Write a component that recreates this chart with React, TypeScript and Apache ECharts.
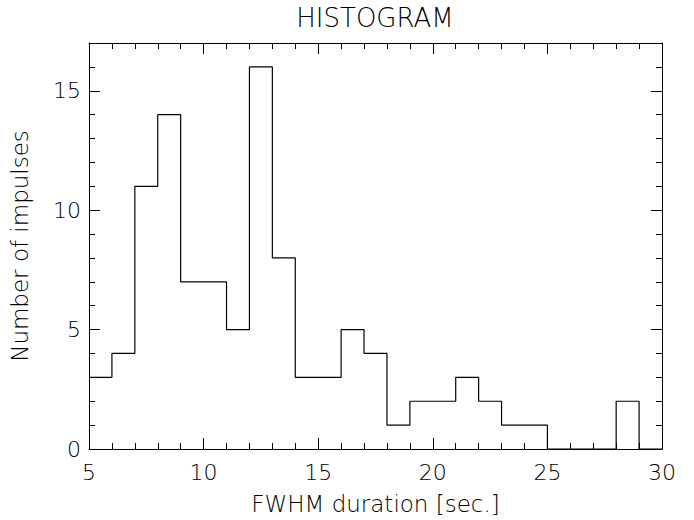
import React, { useEffect, useRef } from "react";
import * as echarts from "echarts";

// Histogram data: bin starts (seconds) and counts per 1-second bin
const binStarts: number[] = [5, 6, 7, 8, 9, 10, 11, 12, 13, 14, 15, 16, 17, 18, 19, 20, 21, 22, 23, 24, 25, 26, 27, 28, 29];
const counts: number[] = [3, 4, 11, 14, 7, 7, 5, 16, 8, 3, 3, 5, 4, 1, 2, 2, 3, 2, 1, 1, 0, 0, 0, 2, 0];
const binWidth = 1;

const titleText = "HISTOGRAM";
const xName = "FWHM duration [sec.]";
const yName = "Number of impulses";

const FONT = "DejaVu Sans";
const FW = 200;

export default function App() {
  const ref = useRef<HTMLDivElement>(null);
  useEffect(() => {
    if (!ref.current) return;
    const chart = echarts.init(ref.current, undefined, { renderer: "svg" });
    const pts: [number, number][] = binStarts.map((x, i) => [x, counts[i]]);
    pts.push([binStarts[binStarts.length - 1] + binWidth, counts[counts.length - 1]]);

    const axisLine = { show: true, onZero: false, lineStyle: { color: "#000", width: 1 } };
    const tick = { show: true, inside: true, length: 11, lineStyle: { color: "#000", width: 1 } };
    const minor = { show: true, splitNumber: 5, length: 6, lineStyle: { color: "#000", width: 1 } };
    const label = { color: "#000", fontFamily: FONT, fontWeight: FW, fontSize: 22 };
    const nameStyle = { color: "#000", fontFamily: FONT, fontWeight: FW, fontSize: 23 };

    chart.setOption({
      animation: false,
      backgroundColor: "#fff",
      grid: { left: 88, right: 32, top: 43, bottom: 70, containLabel: false },
      graphic: [
        {
          type: "text",
          x: 375,
          y: 5,
          style: {
            text: titleText,
            align: "center",
            verticalAlign: "top",
            fontFamily: FONT,
            fontWeight: FW,
            fontSize: 26,
            fill: "#000",
          },
        },
      ],
      xAxis: [
        {
          type: "value",
          min: 5,
          max: 30,
          interval: 5,
          position: "bottom",
          axisLine,
          axisTick: tick,
          minorTick: minor,
          splitLine: { show: false },
          axisLabel: { ...label, margin: 12 },
          name: xName,
          nameLocation: "middle",
          nameGap: 43,
          nameTextStyle: nameStyle,
        },
        {
          type: "value",
          min: 5,
          max: 30,
          interval: 5,
          position: "top",
          axisLine,
          axisTick: tick,
          minorTick: minor,
          splitLine: { show: false },
          axisLabel: { show: false },
        },
      ],
      yAxis: [
        {
          type: "value",
          min: 0,
          max: 17,
          interval: 5,
          position: "left",
          axisLine,
          axisTick: tick,
          minorTick: minor,
          splitLine: { show: false },
          axisLabel: { ...label, margin: 8, showMaxLabel: false },
          name: yName,
          nameLocation: "middle",
          nameRotate: 90,
          nameGap: 58,
          nameTextStyle: nameStyle,
        },
        {
          type: "value",
          min: 0,
          max: 17,
          interval: 5,
          position: "right",
          axisLine,
          axisTick: tick,
          minorTick: minor,
          splitLine: { show: false },
          axisLabel: { show: false },
        },
      ],
      series: [
        {
          type: "line",
          xAxisIndex: 0,
          yAxisIndex: 0,
          step: "end",
          data: pts,
          symbol: "none",
          lineStyle: { color: "#000", width: 1.2 },
        },
      ],
    });
    return () => chart.dispose();
  }, []);
  return (
    <div
      ref={ref}
      style={{ position: "fixed", left: 0, top: 0, width: 694, height: 520 }}
    />
  );
}
